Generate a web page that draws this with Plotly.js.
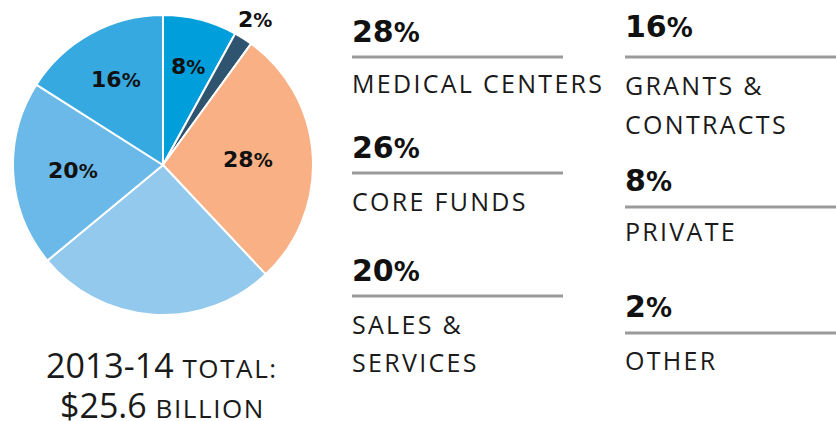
<!DOCTYPE html>
<html><head><meta charset="utf-8">
<script src="https://cdn.plot.ly/plotly-3.0.1.min.js"></script>
<style>html,body{margin:0;padding:0;background:#fff}#chart{width:836px;height:421px}</style>
</head><body><div id="chart"></div>
<script>
// ---- data ----
const categories = ['Private', 'Other', 'Medical Centers', 'Core Funds', 'Sales & Services', 'Grants & Contracts'];
const values = [8, 2, 28, 26, 20, 16];
const legendLabels = [['PRIVATE'], ['OTHER'], ['MEDICAL CENTERS'], ['CORE FUNDS'], ['SALES &', 'SERVICES'], ['GRANTS &', 'CONTRACTS']];
const showPieLabel = [true, true, true, false, true, true];
const totalLine1 = ['2013-14', 'TOTAL:'];
const totalLine2 = ['$25.6', 'BILLION'];

// ---- styles / layout ----
const colors = ['#009fdb', '#2e5470', '#f8b084', '#92c9ec', '#6ab9e8', '#36a9e0'];
const W = 836, H = 421;
const px = x => x / W, py = y => 1 - y / H;
const pieCx = 163, pieCy = 165, pieR = 150;
const labelRadius = [0.68, 1.15, 0.57, 0.6, 0.6, 0.65]; // fraction of pie radius, per slice
const legendLayout = {
  2: {x: 350, x2: 563, pct: 31, line: 57, lab: [83]},
  3: {x: 350, x2: 563, pct: 147, line: 173, lab: [201]},
  4: {x: 350, x2: 563, pct: 270, line: 296, lab: [324, 362]},
  5: {x: 623, x2: 836, pct: 27, line: 57, lab: [85, 124]},
  0: {x: 623, x2: 836, pct: 180, line: 207, lab: [231]},
  1: {x: 623, x2: 836, pct: 306, line: 333, lab: [360]}
};
const pctFont = {family: 'DejaVu Sans', size: 30, color: '#111', weight: 'bold'};
const labFont = {family: 'Open Sans', size: 25, color: '#1a1a1a'};
const pieFont = {family: 'DejaVu Sans', size: 22, color: '#111', weight: 'bold'};

const pie = {
  type: 'pie', values: values, labels: categories, sort: false, direction: 'clockwise', rotation: 0,
  marker: {colors: colors, line: {color: '#ffffff', width: 2}},
  textinfo: 'none',
  domain: {x: [px(pieCx - pieR), px(pieCx + pieR)], y: [py(pieCy + pieR), py(pieCy - pieR)]},
  hoverinfo: 'none', showlegend: false, automargin: false
};

const annotations = [];
const shapes = [];

// pie slice labels at each slice's mid-angle (clockwise from 12 o'clock)
const total = values.reduce((a, b) => a + b, 0);
let cum = 0;
values.forEach((v, i) => {
  const mid = (cum + v / 2) / total * 2 * Math.PI;
  cum += v;
  if (!showPieLabel[i]) return;
  const r = labelRadius[i] * pieR;
  annotations.push({xref: 'paper', yref: 'paper', x: px(pieCx + r * Math.sin(mid)), y: py(pieCy - r * Math.cos(mid)),
    xanchor: 'center', yanchor: 'middle', showarrow: false,
    text: v + '<span style="font-size:19px">%</span>', font: pieFont});
});

Object.keys(legendLayout).forEach(k => {
  const i = +k, L = legendLayout[k];
  annotations.push({xref: 'paper', yref: 'paper', x: px(L.x), y: py(L.pct), xanchor: 'left', yanchor: 'middle',
    showarrow: false, text: values[i] + '<span style="font-size:26px">%</span>', font: pctFont});
  shapes.push({type: 'line', xref: 'paper', yref: 'paper', x0: px(L.x + 2), x1: px(L.x2), y0: py(L.line), y1: py(L.line),
    line: {color: '#9a9a9a', width: 3}});
  legendLabels[i].forEach((t, j) => {
    annotations.push({xref: 'paper', yref: 'paper', x: px(L.x), y: py(L.lab[j]), xanchor: 'left', yanchor: 'middle',
      showarrow: false, text: '<span style="letter-spacing:2.3px">' + t + '</span>', font: labFont});
  });
});
const totFont = {family: 'Open Sans', size: 34, color: '#1a1a1a'};
[[totalLine1, 365], [totalLine2, 405]].forEach(([parts, y]) => {
  annotations.push({xref: 'paper', yref: 'paper', x: px(162), y: py(y), xanchor: 'center', yanchor: 'middle', showarrow: false,
    text: parts[0] + ' <span style="font-size:26px;letter-spacing:1.6px">' + parts[1] + '</span>', font: totFont});
});

Plotly.newPlot('chart', [pie], {
  width: W, height: H, margin: {l: 0, r: 0, t: 0, b: 0},
  paper_bgcolor: '#ffffff', plot_bgcolor: '#ffffff',
  annotations: annotations, shapes: shapes, showlegend: false
}, {displayModeBar: false, staticPlot: true});
</script></body></html>
